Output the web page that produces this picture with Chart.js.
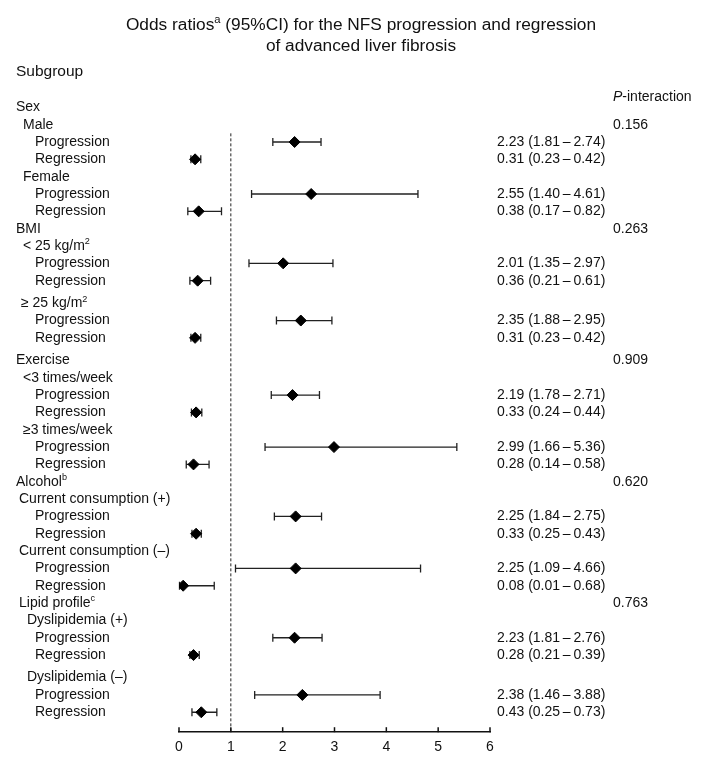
<!DOCTYPE html>
<html lang="en">
<head>
  <meta charset="UTF-8">
  <title>NFS progression and regression by subgroup</title>
  <script src="https://cdn.jsdelivr.net/npm/chart.js"></script>
  <style>
    html, body { margin: 0; padding: 0; background: #fff; }
  </style>
</head>
<body>
  <canvas id="forest" width="717" height="770"></canvas>
  <script>
    // groups and subgroups, top to bottom
    const groups = ['Sex', 'BMI', 'Exercise', 'Alcohol', 'Lipid profile'];
    const groupSup = ['', '', '', 'b', 'c'];
    const pInteraction = ['0.156', '0.263', '0.909', '0.620', '0.763'];

    const subgroups = ['Male', 'Female', '< 25 kg/m', '\u2265 25 kg/m', '<3 times/week', '\u22653 times/week',
      'Current consumption (+)', 'Current consumption (\u2013)', 'Dyslipidemia (+)', 'Dyslipidemia (\u2013)'];
    const subgroupSup = ['', '', '2', '2', '', '', '', '', '', ''];
    const subgroupOf = [0, 0, 1, 1, 2, 2, 3, 3, 4, 4];

    // odds ratios and 95% CI
    const progOR = [2.23, 2.55, 2.01, 2.35, 2.19, 2.99, 2.25, 2.25, 2.23, 2.38];
    const progLow = [1.81, 1.40, 1.35, 1.88, 1.78, 1.66, 1.84, 1.09, 1.81, 1.46];
    const progHigh = [2.74, 4.61, 2.97, 2.95, 2.71, 5.36, 2.75, 4.66, 2.76, 3.88];
    const regOR = [0.31, 0.38, 0.36, 0.31, 0.33, 0.28, 0.33, 0.08, 0.28, 0.43];
    const regLow = [0.23, 0.17, 0.21, 0.23, 0.24, 0.14, 0.25, 0.01, 0.21, 0.25];
    const regHigh = [0.42, 0.82, 0.61, 0.42, 0.44, 0.58, 0.43, 0.68, 0.39, 0.73];

    const xTicks = [0, 1, 2, 3, 4, 5, 6];

    // layout bits (not data)
    const FONT = '"Liberation Sans", Arial, sans-serif';
    const INK = '#111';
    const gapBeforeGroup = [2];       // Exercise
    const gapBeforeSub = [3, 9];      // >= 25, Dyslipidemia (-)
    const groupIndent = [16, 16, 16, 16, 19];
    const subIndent = [23, 23, 23, 21, 23, 23, 19, 19, 27, 27];

    // build row positions (in row units, 0 = "Sex")
    const rows = [];
    const progPts = [], regPts = [];
    let pos = 0;
    groups.forEach((g, gi) => {
      if (gapBeforeGroup.includes(gi)) pos += 0.3;
      rows.push({ kind: 'group', text: g, sup: groupSup[gi], x: groupIndent[gi], y: pos, p: pInteraction[gi] });
      pos += 1;
      subgroups.forEach((s, si) => {
        if (subgroupOf[si] !== gi) return;
        if (gapBeforeSub.includes(si)) pos += 0.3;
        rows.push({ kind: 'sub', text: s, sup: subgroupSup[si], x: subIndent[si], y: pos, idx: si });
        pos += 1;
        rows.push({ kind: 'prog', text: 'Progression', x: 35, y: pos, idx: si });
        progPts.push({ x: progOR[si], y: pos, lo: progLow[si], hi: progHigh[si] });
        pos += 1;
        rows.push({ kind: 'reg', text: 'Regression', x: 35, y: pos, idx: si });
        regPts.push({ x: regOR[si], y: pos, lo: regLow[si], hi: regHigh[si] });
        pos += 1;
      });
    });
    const yMax = pos + 0.15;

    function ciText(or, lo, hi) {
      return `${or.toFixed(2)} (${lo.toFixed(2)}\u2009\u2013\u2009${hi.toFixed(2)})`;
    }

    // draw text made of pieces (superscripts, italics)
    function drawRich(ctx, parts, x, y, size, align) {
      const fontFor = p => `${p.italic ? 'italic ' : ''}${p.sup ? size * 0.65 : size}px ${FONT}`;
      let total = 0;
      parts.forEach(p => { ctx.font = fontFor(p); total += ctx.measureText(p.t).width; });
      let cx = align === 'center' ? x - total / 2 : x;
      ctx.textAlign = 'left';
      ctx.textBaseline = 'middle';
      ctx.fillStyle = INK;
      parts.forEach(p => {
        ctx.font = fontFor(p);
        ctx.fillText(p.t, cx, p.sup ? y - size * 0.3 : y);
        cx += ctx.measureText(p.t).width;
      });
    }

    const forestText = {
      id: 'forestText',
      beforeDatasetsDraw(chart) {
        const { ctx, scales: { x, y } } = chart;
        ctx.save();
        ctx.strokeStyle = '#222';
        ctx.lineWidth = 1.3;
        [...progPts, ...regPts].forEach(pt => {
          const py = y.getPixelForValue(pt.y);
          const x0 = x.getPixelForValue(pt.lo);
          const x1 = x.getPixelForValue(pt.hi);
          ctx.beginPath();
          ctx.moveTo(x0, py); ctx.lineTo(x1, py);
          ctx.moveTo(x0, py - 4); ctx.lineTo(x0, py + 4);
          ctx.moveTo(x1, py - 4); ctx.lineTo(x1, py + 4);
          ctx.stroke();
        });
        ctx.restore();
      },
      afterDraw(chart) {
        const { ctx, scales: { x, y }, chartArea } = chart;
        ctx.save();
        // title
        drawRich(ctx, [{ t: 'Odds ratios' }, { t: 'a', sup: true }, { t: ' (95%CI) for the NFS progression and regression' }], 361, 25, 17.3, 'center');
        drawRich(ctx, [{ t: 'of advanced liver fibrosis' }], 361, 46, 17.3, 'center');
        drawRich(ctx, [{ t: 'Subgroup' }], 16, 72, 15.5, 'left');
        drawRich(ctx, [{ t: 'P', italic: true }, { t: '-interaction' }], 613, 97, 14, 'left');

        rows.forEach(r => {
          const py = y.getPixelForValue(r.y);
          const parts = [{ t: r.text }];
          if (r.sup) parts.push({ t: r.sup, sup: true });
          drawRich(ctx, parts, r.x, py, 14, 'left');
          if (r.kind === 'prog') drawRich(ctx, [{ t: ciText(progOR[r.idx], progLow[r.idx], progHigh[r.idx]) }], 497, py, 14, 'left');
          if (r.kind === 'reg') drawRich(ctx, [{ t: ciText(regOR[r.idx], regLow[r.idx], regHigh[r.idx]) }], 497, py, 14, 'left');
        });
        // p-interaction column: Sex value sits on the Male line, others on their group line
        rows.filter(r => r.kind === 'group').forEach((r, gi) => {
          const py = y.getPixelForValue(gi === 0 ? r.y + 1 : r.y);
          drawRich(ctx, [{ t: r.p }], 613, py, 14, 'left');
        });

        // upward tick marks on the x axis
        ctx.strokeStyle = INK;
        ctx.lineWidth = 1.5;
        xTicks.forEach(v => {
          const px = x.getPixelForValue(v);
          ctx.beginPath();
          ctx.moveTo(px, chartArea.bottom);
          ctx.lineTo(px, chartArea.bottom - 5);
          ctx.stroke();
        });
        ctx.restore();
      }
    };

    new Chart(document.getElementById('forest').getContext('2d'), {
      type: 'scatter',
      data: {
        datasets: [
          {
            type: 'line',
            label: 'OR = 1',
            data: [{ x: 1, y: 1.5 }, { x: 1, y: yMax }],
            borderColor: '#222',
            borderWidth: 1,
            borderDash: [3, 2],
            pointRadius: 0
          },
          {
            label: 'Progression',
            data: progPts,
            pointStyle: 'rectRot',
            pointRadius: 5.5,
            backgroundColor: '#000',
            borderColor: '#000',
            borderWidth: 1
          },
          {
            label: 'Regression',
            data: regPts,
            pointStyle: 'rectRot',
            pointRadius: 5.5,
            backgroundColor: '#000',
            borderColor: '#000',
            borderWidth: 1
          }
        ]
      },
      options: {
        responsive: false,
        animation: false,
        layout: { padding: { left: 179, right: 227, top: 90, bottom: 7 } },
        plugins: { legend: { display: false }, tooltip: { enabled: false } },
        scales: {
          x: {
            type: 'linear',
            min: 0,
            max: 6,
            afterBuildTicks: axis => { axis.ticks = xTicks.map(v => ({ value: v })); },
            grid: { display: false, drawTicks: false },
            border: { display: true, color: INK, width: 1.5 },
            ticks: { color: INK, padding: 7, font: { family: FONT, size: 14 } }
          },
          y: {
            type: 'linear',
            display: false,
            reverse: true,
            min: -1,
            max: yMax
          }
        }
      },
      plugins: [forestText]
    });
  </script>
</body>
</html>
